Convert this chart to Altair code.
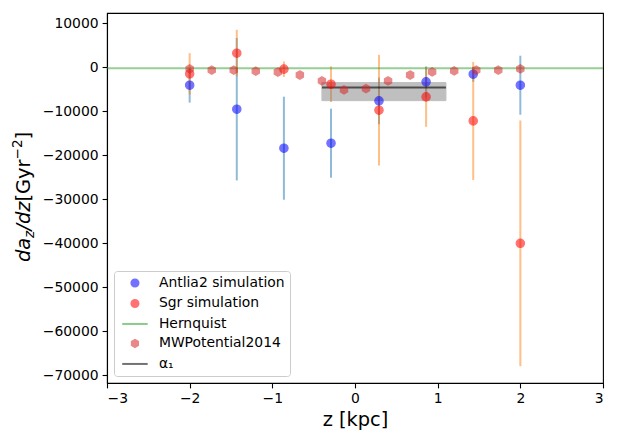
import altair as alt
import pandas as pd

# Antlia2 / Sgr simulation points
z_sim = [-2.0, -1.43, -0.86, -0.29, 0.29, 0.86, 1.43, 2.0]
antlia_val = [-4100, -9550, -18400, -17270, -7660, -3340, -1600, -4100]
antlia_err = [3950, 16170, 11700, 7840, 5300, 3500, 1700, 6700]
sgr_val = [-1520, 3180, -450, -3860, -9770, -6750, -12200, -40000]
sgr_err = [4700, 5300, 1750, 4050, 12570, 6800, 13400, 27900]

# MWPotential2014 curve
z_mw = [-2.0, -1.733, -1.467, -1.2, -0.933, -0.667, -0.4, -0.133,
        0.133, 0.4, 0.667, 0.933, 1.2, 1.467, 1.733, 2.0]
mw_val = [-390, -680, -680, -910, -1100, -1780, -3120, -5160,
          -4880, -3120, -1780, -1080, -850, -680, -680, -390]

# Hernquist constant
hernquist_val = [-250]

# alpha_1 band
alpha_z = [-0.4, 1.1]
alpha_val = [-4640]
alpha_lo = [-7600]
alpha_hi = [-3500]

series = ["Antlia2 simulation", "Sgr simulation", "Hernquist", "MWPotential2014", "α₁"]
series_colors = ["#0000ff", "#ff0000", "#2ca02c", "#d62728", "#000000"]
line_path = "M-3.6,0L3.6,0"
hex_path = "M0,-1L0.866,-0.5L0.866,0.5L0,1L-0.866,0.5L-0.866,-0.5Z"
series_shapes = ["circle", "circle", line_path, hex_path, line_path]

err_a = pd.DataFrame({"z": z_sim,
                      "lo": [v - e for v, e in zip(antlia_val, antlia_err)],
                      "hi": [v + e for v, e in zip(antlia_val, antlia_err)]})
err_s = pd.DataFrame({"z": z_sim,
                      "lo": [v - e for v, e in zip(sgr_val, sgr_err)],
                      "hi": [v + e for v, e in zip(sgr_val, sgr_err)]})

pts = pd.concat([
    pd.DataFrame({"z": z_sim, "v": antlia_val, "series": series[0]}),
    pd.DataFrame({"z": z_sim, "v": sgr_val, "series": series[1]}),
    pd.DataFrame({"z": z_mw, "v": mw_val, "series": series[3]}),
], ignore_index=True)

hern = pd.DataFrame({"v": hernquist_val})
band = pd.DataFrame({"z": [alpha_z[0]], "z2": [alpha_z[1]],
                     "lo": alpha_lo, "hi": alpha_hi, "v": alpha_val})

xscale = alt.Scale(domain=[-3, 3], nice=False, zero=False)
yscale = alt.Scale(domain=[-71720, 12300], nice=False, zero=False)

xaxis = alt.Axis(values=[-3, -2, -1, 0, 1, 2, 3], format="d", title="z [kpc]")
yaxis = alt.Axis(values=[-70000, -60000, -50000, -40000, -30000, -20000, -10000, 0, 10000],
                 format="d", title="")

X = alt.X("z:Q", scale=xscale, axis=xaxis)
Y = alt.Y("v:Q", scale=yscale, axis=yaxis)

eb_a = alt.Chart(err_a).mark_rule(color="#1f77b4", opacity=0.5, strokeWidth=2).encode(
    x=alt.X("z:Q", scale=xscale, axis=xaxis),
    y=alt.Y("lo:Q", scale=yscale, axis=yaxis), y2="hi:Q")
eb_s = alt.Chart(err_s).mark_rule(color="#ff7f0e", opacity=0.5, strokeWidth=2).encode(
    x=alt.X("z:Q", scale=xscale, axis=xaxis),
    y=alt.Y("lo:Q", scale=yscale, axis=yaxis), y2="hi:Q")

hline = alt.Chart(hern).mark_rule(color="#2ca02c", opacity=0.5, strokeWidth=2).encode(
    y=alt.Y("v:Q", scale=yscale, axis=yaxis))

box = alt.Chart(band).mark_rect(color="#808080", opacity=0.5, stroke="#808080", strokeWidth=1).encode(
    x=alt.X("z:Q", scale=xscale, axis=xaxis), x2="z2:Q",
    y=alt.Y("lo:Q", scale=yscale, axis=yaxis), y2="hi:Q")
aline = alt.Chart(band).mark_rule(color="#000000", opacity=0.6, strokeWidth=2).encode(
    x=alt.X("z:Q", scale=xscale, axis=xaxis), x2="z2:Q",
    y=alt.Y("v:Q", scale=yscale, axis=yaxis))

leg = alt.Legend(title=None, orient="bottom-left", offset=7, padding=5,
                 fillColor="white", strokeColor="#cccccc", cornerRadius=3,
                 labelFont="DejaVu Sans", labelFontSize=13.9, labelColor="black",
                 labelOffset=17, symbolOffset=9, rowPadding=4.5,
                 symbolOpacity=0.55, symbolStrokeWidth=2, symbolSize=50)

points = alt.Chart(pts).mark_point(filled=True, size=70, opacity=0.55, strokeWidth=1.2).encode(
    x=X, y=Y,
    color=alt.Color("series:N", scale=alt.Scale(domain=series, range=series_colors), legend=leg),
    stroke=alt.Stroke("series:N", scale=alt.Scale(domain=series, range=series_colors), legend=leg),
    shape=alt.Shape("series:N", scale=alt.Scale(domain=series, range=series_shapes), legend=leg),
)

# y-axis title built from pieces (math-style sub/superscripts)
one = pd.DataFrame({"k": [0]})
def ttl(txt, ypos, xpos, size, style):
    return alt.Chart(one).mark_text(
        angle=270, align="left", baseline="alphabetic", font="DejaVu Sans",
        fontSize=size, fontStyle=style, color="black").encode(
        x=alt.value(xpos), y=alt.value(ypos), text=alt.value(txt))

base_x = -77
title_parts = [
    ttl("da", 249, base_x, 19.4, "italic"),
    ttl("z", 225, base_x + 4, 13.6, "italic"),
    ttl("/dz", 217.5, base_x, 19.4, "italic"),
    ttl("[Gyr", 188.5, base_x, 19.4, "normal"),
    ttl("−2", 146.5, base_x - 8, 13.6, "normal"),
    ttl("]", 126.5, base_x, 19.4, "normal"),
]

chart = alt.layer(eb_a, eb_s, hline, box, aline, points, *title_parts).properties(
    width=496, height=370,
    autosize=alt.AutoSizeParams(type="none"),
    padding={"left": 99, "top": 5, "right": 5, "bottom": 50},
).configure_view(stroke="black", strokeWidth=1.1).configure_axis(
    grid=False, labelFont="DejaVu Sans", labelFontSize=13.9, labelColor="black",
    tickColor="black", tickSize=4.9, tickWidth=1.1, domainColor="black", domainWidth=1.1,
    labelPadding=4, titleFont="DejaVu Sans", titleFontSize=19.4, titleFontWeight="normal",
    titleColor="black",
).configure_axisX(titlePadding=5)

chart.save("out.html", embed_options={"renderer": "svg", "actions": False})
